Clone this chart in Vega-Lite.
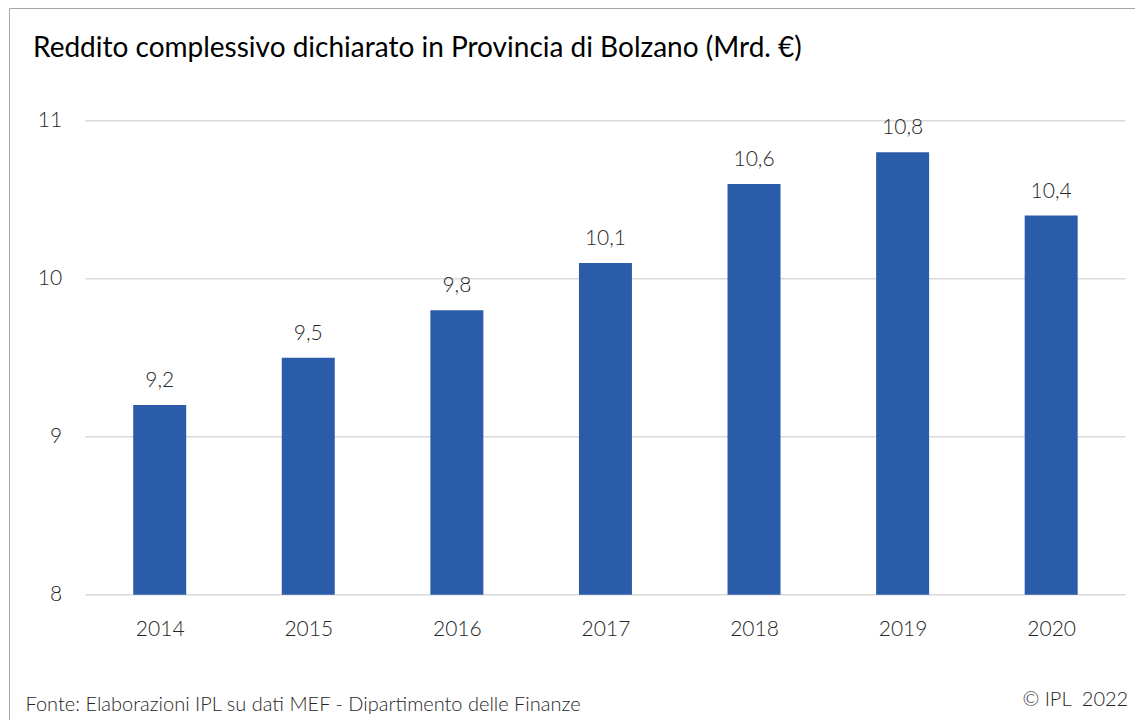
{
  "$schema": "https://vega.github.io/schema/vega-lite/v6.json",
  "width": 1126,
  "height": 712,
  "autosize": {"type": "none"},
  "padding": {"left": 9, "top": 8, "right": 0, "bottom": 0},
  "background": "white",
  "config": {
    "locale": {"number": {"decimal": ",", "thousands": ".", "grouping": [3], "currency": ["€", ""]}},
    "view": {"stroke": "#a6a6a6", "strokeWidth": 1},
    "font": "Lato"
  },
  "title": {
    "text": "Reddito complessivo dichiarato in Provincia di Bolzano (Mrd. €)",
    "anchor": "start",
    "frame": "group",
    "orient": "top",
    "offset": -77,
    "dx": 24,
    "fontSize": 28,
    "fontWeight": "normal",
    "color": "#000000",
    "baseline": "alphabetic"
  },
  "data": {
    "values": [
      {"year": 2014, "value": 9.2},
      {"year": 2015, "value": 9.5},
      {"year": 2016, "value": 9.8},
      {"year": 2017, "value": 10.1},
      {"year": 2018, "value": 10.6},
      {"year": 2019, "value": 10.8},
      {"year": 2020, "value": 10.4}
    ]
  },
  "layer": [
    {
      "data": {"values": [{"g": 8}, {"g": 9}, {"g": 10}, {"g": 11}]},
      "mark": {"type": "rule", "color": "#d9d9d9", "strokeWidth": 1.5},
      "encoding": {
        "y": {
          "field": "g",
          "type": "quantitative",
          "scale": {"domain": [7.20696, 11.7133], "nice": false, "zero": false, "padding": 0},
          "axis": {
            "values": [8, 9, 10, 11],
            "format": ".0f",
            "orient": "left",
            "offset": -52.7,
            "domain": false,
            "ticks": false,
            "tickSize": 0,
            "labelPadding": 0,
            "grid": false,
            "labelFontSize": 21,
            "labelFontWeight": 300,
            "labelColor": "#262626",
            "labelFlush": false,
            "title": "© IPL \u00a02022",
            "titleAngle": 0,
            "titleX": 1066,
            "titleY": 697,
            "titleAlign": "right",
            "titleBaseline": "alphabetic",
            "titleFontSize": 20,
            "titleFontWeight": 300,
            "titleColor": "#262626"
          }
        },
        "x": {
          "datum": 2013.5,
          "type": "quantitative",
          "scale": {"domain": [2012.9857, 2020.5641], "nice": false, "zero": false, "padding": 0},
          "axis": {
            "values": [2014, 2015, 2016, 2017, 2018, 2019, 2020],
            "format": "d",
            "orient": "bottom",
            "offset": -85,
            "domain": false,
            "ticks": false,
            "tickSize": 0,
            "labelPadding": 0,
            "grid": false,
            "labelFlush": false,
            "labelBaseline": "alphabetic",
            "labelFontSize": 21,
            "labelFontWeight": 300,
            "labelColor": "#262626",
            "title": "Fonte: Elaborazioni IPL su dati MEF - Dipartimento delle Finanze",
            "titleX": 16,
            "titleY": 75.7,
            "titleAlign": "left",
            "titleBaseline": "alphabetic",
            "titleFontSize": 20,
            "titleFontWeight": 300,
            "titleColor": "#262626"
          }
        },
        "x2": {"datum": 2020.5}
      }
    },
    {
      "mark": {"type": "bar", "width": 53, "color": "#2B5CAA"},
      "encoding": {
        "x": {"field": "year", "type": "quantitative"},
        "y": {"field": "value", "type": "quantitative"},
        "y2": {"datum": 8}
      }
    },
    {
      "mark": {"type": "text", "dy": -18, "baseline": "alphabetic", "fontSize": 21, "fontWeight": 300, "color": "#262626"},
      "encoding": {
        "x": {"field": "year", "type": "quantitative"},
        "y": {"field": "value", "type": "quantitative"},
        "text": {"field": "value", "type": "quantitative", "format": ".1f"}
      }
    }
  ]
}
